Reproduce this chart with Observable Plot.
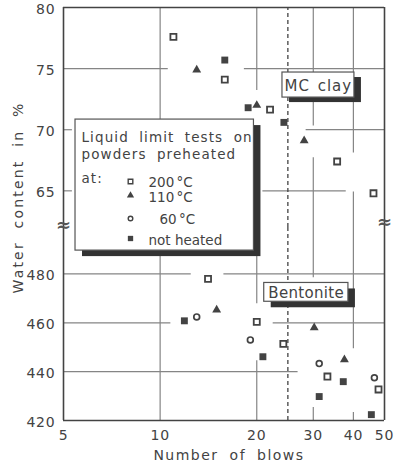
<!DOCTYPE html>
<html><head><meta charset="utf-8">
<script src="https://cdn.jsdelivr.net/npm/d3@7"></script>
<script src="https://cdn.jsdelivr.net/npm/@observablehq/plot@0.6"></script>
<style>
body{margin:0;background:#fff;}
#chart{position:relative;width:394px;height:464px;}
#chart svg{display:block;overflow:visible;}
#chart svg.topplot{position:relative;z-index:2;}
</style></head>
<body><div id="chart"></div>
<script>
// ---- data (number of blows, water content %) ----
const clay200 = [[11,77.6],[15.9,74.1],[22,71.65],[35.6,67.4],[46.2,64.8]];
const clay110 = [[13,74.9],[20,72],[28.1,69.1]];
const clayNH  = [[15.9,75.7],[18.8,71.8],[24.3,70.6]];
const bent200 = [[14.1,478],[20,460.4],[24.2,451.4],[33.2,438],[47.9,432.7]];
const bent110 = [[15,465.3],[30.2,458],[37.5,444.9]];
const bent60  = [[13,462.4],[19.1,453],[31.3,443.3],[46.5,437.5]];
const bentNH  = [[11.9,460.8],[20.9,446.1],[31.3,429.8],[37.2,435.9],[45.5,422.4]];
const xTicks = [5,10,20,30,40,50];
const clayTicks = [65,70,75,80];
const bentTicks = [420,440,460,480];
const legendLabels = ["200 °C","110 °C","60 °C","not heated"];
const legendTitle = ["Liquid limit tests on","powders preheated","at:"];
const limitBlows = 25;
// grid segments (value, from, to) as drawn in the original
const clayGridY = [[75,5,10.6],[75,18.3,50],[70,5,5.33],[70,28.5,50],[65,5,5.33],[65,20.9,38]];
const clayGridX = [[10,62,80],[20,73.2,80],[30,70.3,80],[30,62,67.7],[40,68.1,80],[40,62,64.9]];
const bentGridY = [[480,5,12.5],[480,15.8,50],[460,5,10.8],[460,22.5,50],[440,5,26.9]];
const bentGridX = [[10,420,499],[20,467.8,499],[20,420,444.5],[30,478.4,499],[30,420,425.3],[40,449.4,499],[40,420,423.3]];

const font = "DejaVu Sans, sans-serif";
const ink = "#434343";
const gridC = "#858585";
const W = 394;
const xDomain = [5, 50];

const sym = [
  {symbol: "square", stroke: ink, fill: "white"},
  {symbol: "triangle", fill: ink, stroke: "none"},
  {symbol: "circle", stroke: ink, fill: "white"},
  {symbol: "square", fill: ink, stroke: "none"}
];

const dotMarks = (d200, d110, d60, dNH) => [
  Plot.dot(d200, {x: d=>d[0], y: d=>d[1], ...sym[0], r: 3.4, strokeWidth: 1.8}),
  Plot.dot(d110, {x: d=>d[0], y: d=>d[1], ...sym[1], r: 3.3}),
  Plot.dot(d60,  {x: d=>d[0], y: d=>d[1], ...sym[2], r: 2.9, strokeWidth: 1.7}),
  Plot.dot(dNH,  {x: d=>d[0], y: d=>d[1], ...sym[3], r: 3.9})
];

// legend rows offsets from the frame's top-left corner
const legendText = [
  {t: legendTitle[0], dx: 18, dy: 130},
  {t: legendTitle[1], dx: 18, dy: 147},
  {t: legendTitle[2], dx: 18, dy: 171},
  {t: legendLabels[0], dx: 85, dy: 175},
  {t: legendLabels[1], dx: 85, dy: 190},
  {t: legendLabels[2], dx: 96, dy: 212},
  {t: legendLabels[3], dx: 85, dy: 233}
];
const legendSym = [
  {dy: 174, r: 2.6, strokeWidth: 1.4},
  {dy: 188, r: 2.7},
  {dy: 211, r: 2.3, strokeWidth: 1.4},
  {dy: 231, r: 3.0}
];

const topPlot = Plot.plot({
  width: W, height: 227, marginTop: 7, marginBottom: 0, marginLeft: 63, marginRight: 10,
  className: "topplot",
  x: {type: "log", domain: xDomain, axis: null},
  y: {domain: [62, 80]},
  style: {fontFamily: font, color: ink, background: "transparent", overflow: "visible"},
  marks: [
    Plot.ruleY(clayGridY, {y: d=>d[0], x1: d=>d[1], x2: d=>d[2], stroke: gridC, strokeWidth: 1.2}),
    Plot.ruleX(clayGridX, {x: d=>d[0], y1: d=>d[1], y2: d=>d[2], stroke: gridC, strokeWidth: 1.2}),
    Plot.ruleX([limitBlows], {y1: 62, y2: 80, stroke: ink, strokeWidth: 1.3, strokeDasharray: "4,3"}),
    Plot.ruleX([5, 50], {y1: 62, y2: 80, stroke: ink, strokeWidth: 1.6}),
    Plot.ruleY([80], {x1: 5, x2: 50, stroke: ink, strokeWidth: 1.6}),
    Plot.axisY(clayTicks, {tickSize: 0, tickPadding: 8, fontSize: 14, dy: 2, label: null}),
    ...dotMarks(clay200, clay110, [], clayNH),
    // MC clay label
    Plot.rect([0], {x1: 24.05, x2: 40.3, y1: 72.63, y2: 74.68, fill: "#333", dx: 7, dy: 5}),
    Plot.rect([0], {x1: 24.05, x2: 40.3, y1: 72.63, y2: 74.68, fill: "white", stroke: "#555", strokeWidth: 1.2}),
    Plot.text(["MC clay"], {x: 31.1, y: 73.55, fontSize: 15, fill: ink}),
    // legend box
    Plot.rect([0], {x1: 5.45, x2: 19.6, y1: 60.11, y2: 70.83, fill: "#333", dx: 7, dy: 6}),
    Plot.rect([0], {x1: 5.45, x2: 19.6, y1: 60.11, y2: 70.83, fill: "white", stroke: "#555", strokeWidth: 1.2}),
    ...legendText.map(r => Plot.text([r.t], {frameAnchor: "top-left", textAnchor: "start", lineAnchor: "middle", dx: r.dx, dy: r.dy, fontSize: 13.5, fill: ink})),
    ...legendSym.map((s, i) => Plot.dot([0], {frameAnchor: "top-left", dx: 67, dy: s.dy, ...sym[i], r: s.r, strokeWidth: s.strokeWidth})),
    // axis break marks
    Plot.text(["≈"], {x: 5, y: 62, dy: -2, fontSize: 18, fontWeight: "bold", fill: "#555"}),
    Plot.text(["≈"], {x: 50, y: 62, dy: -5, fontSize: 18, fontWeight: "bold", fill: "#555"}),
    // y label
    Plot.text(["Water content in %"], {frameAnchor: "left", textAnchor: "middle", lineAnchor: "middle", dx: -45, dy: 80, rotate: -90, fontSize: 14, fill: ink})
  ]
});

const bottomPlot = Plot.plot({
  width: W, height: 237, marginTop: 0, marginBottom: 44, marginLeft: 63, marginRight: 10,
  x: {type: "log", domain: xDomain, axis: null},
  y: {domain: [420, 499]},
  style: {fontFamily: font, color: ink, background: "transparent", overflow: "visible"},
  marks: [
    Plot.ruleY(bentGridY, {y: d=>d[0], x1: d=>d[1], x2: d=>d[2], stroke: gridC, strokeWidth: 1.2}),
    Plot.ruleX(bentGridX, {x: d=>d[0], y1: d=>d[1], y2: d=>d[2], stroke: gridC, strokeWidth: 1.2}),
    Plot.ruleX([limitBlows], {y1: 420, y2: 499, stroke: ink, strokeWidth: 1.3, strokeDasharray: "4,3"}),
    Plot.ruleX([5, 50], {y1: 420, y2: 499, stroke: ink, strokeWidth: 1.6}),
    Plot.ruleY([420], {x1: 5, x2: 50, stroke: ink, strokeWidth: 1.6}),
    Plot.axisY(bentTicks, {tickSize: 0, tickPadding: 8, fontSize: 14, dy: 2, label: null}),
    // x tick labels
    Plot.text(xTicks, {x: d => d, frameAnchor: "bottom", lineAnchor: "middle", dy: 15, fontSize: 14, fill: ink, text: d => String(d)}),
    ...dotMarks(bent200, bent110, bent60, bentNH),
    // Bentonite label
    Plot.rect([0], {x1: 21.1, x2: 38.6, y1: 468.6, y2: 476.3, fill: "#333", dx: 7, dy: 6}),
    Plot.rect([0], {x1: 21.1, x2: 38.6, y1: 468.6, y2: 476.3, fill: "white", stroke: "#555", strokeWidth: 1.2}),
    Plot.text(["Bentonite"], {x: 28.5, y: 472.3, fontSize: 15, fill: ink}),
    Plot.text(["Number of blows"], {frameAnchor: "bottom", textAnchor: "middle", lineAnchor: "middle", dx: 5, dy: 35, fontSize: 14, fill: ink})
  ]
});

document.getElementById("chart").append(topPlot, bottomPlot);

// letter spacing of the technical lettering
const spacing = {
  "Number of blows": [1.5, 5],
  "Water content in %": [2.2, 6],
  "Liquid limit tests on": [1.1, 5],
  "powders preheated": [1.1, 5],
  "at:": [1.1, 0],
  "MC clay": [1, 2],
  "Bentonite": [0.3, 0],
  "200 °C": [0, -2],
  "110 °C": [0, -2],
  "60 °C": [0, -2]
};
d3.selectAll("#chart svg text").each(function(){
  const s = spacing[this.textContent];
  if (s) { this.style.letterSpacing = s[0] + "px"; this.style.wordSpacing = s[1] + "px"; }
  else if (/^\d+$/.test(this.textContent)) this.style.letterSpacing = "0.8px";
});
</script>
</body></html>
